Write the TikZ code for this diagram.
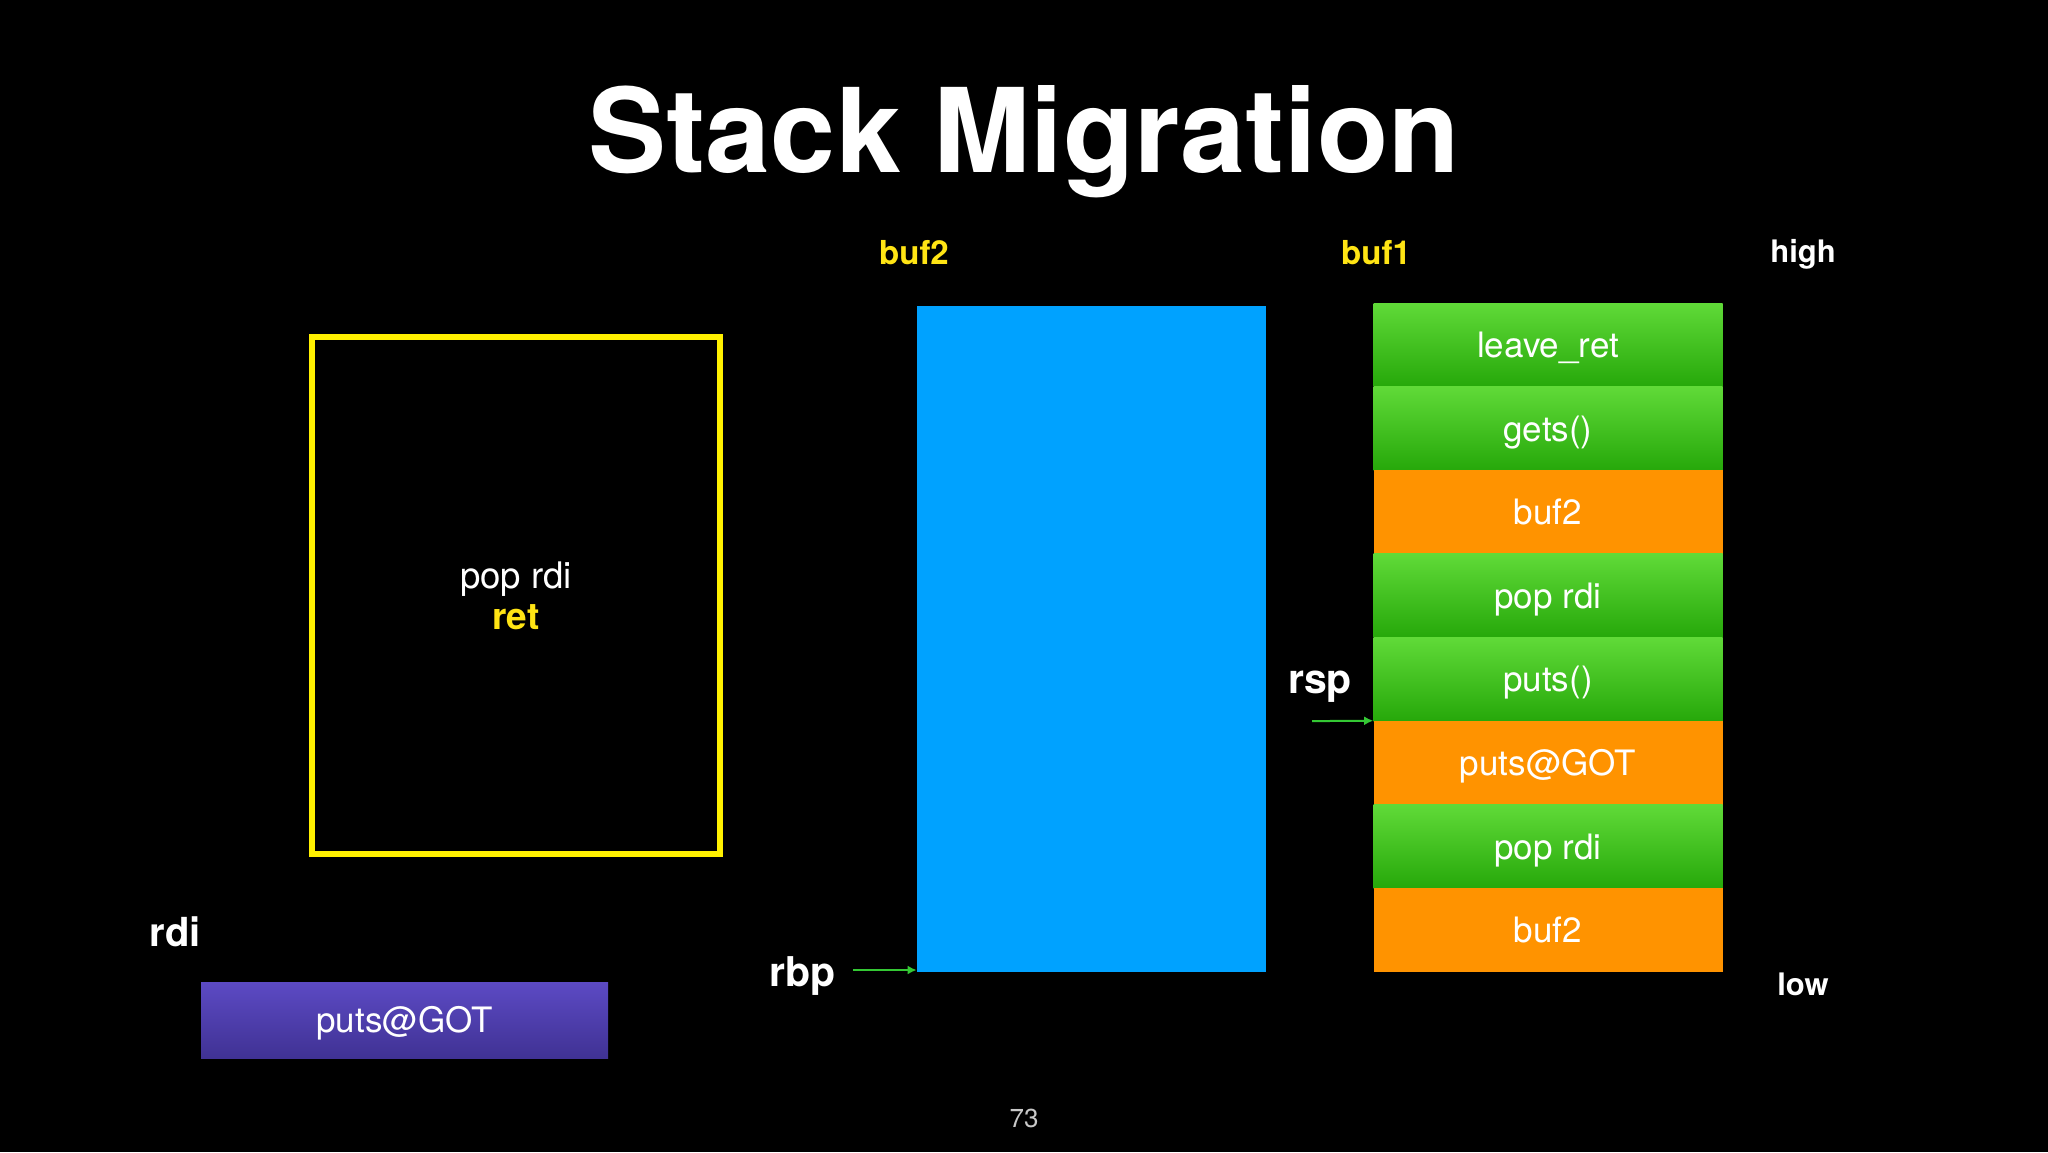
\documentclass[tikz,border=0pt]{standalone}
\usepackage{fontspec}
\setmainfont{TeX Gyre Heros}
\usetikzlibrary{arrows.meta}
\definecolor{grtop}{RGB}{96,218,56}
\definecolor{grbot}{RGB}{38,168,10}
\definecolor{orng}{RGB}{255,147,0}
\definecolor{skyb}{RGB}{0,162,255}
\definecolor{pptop}{RGB}{92,74,196}
\definecolor{ppbot}{RGB}{64,50,148}
\definecolor{ylw}{RGB}{255,240,0}
\definecolor{ylwtxt}{RGB}{255,228,20}
\definecolor{ptrgreen}{RGB}{52,200,52}
\definecolor{pgnum}{RGB}{200,200,200}
\tikzset{
  cell/.style={minimum width=174.5pt, minimum height=41.8pt, inner sep=0pt,
    text height=12.6pt, text depth=0pt, text=white,
    font=\fontsize{17.5}{20}\selectfont},
  greencell/.style={cell, top color=grtop, bottom color=grbot},
  orangecell/.style={cell, fill=orng},
  reglabel/.style={text=white, font=\fontsize{18.3}{22}\selectfont, inner sep=0pt, anchor=base},
  boldlabel/.style={text=white, font=\bfseries\fontsize{20.5}{24}\selectfont, inner sep=0pt, anchor=base},
  buflabel/.style={text=ylwtxt, font=\bfseries\fontsize{16.5}{20}\selectfont, inner sep=0pt, anchor=base},
  endlabel/.style={text=white, font=\bfseries\fontsize{15.5}{18}\selectfont, inner sep=0pt, anchor=base},
  ptr/.style={draw=ptrgreen, line width=1pt, -{Latex[length=4.5pt,width=4.5pt]}}
}
\begin{document}
\begin{tikzpicture}[x=0.5pt,y=-0.5pt]
\fill[black] (0,0) rectangle (2048,1152);
\useasboundingbox (0,0) rectangle (2048,1152);

% title
\node[text=white, font=\bfseries\fontsize{58.4}{66}\selectfont, inner sep=0pt, anchor=base] (title) at (1024,172) {Stack Migration};

% column labels
\node[buflabel] (lbuf2) at (914,264) {buf2};
\node[buflabel] (lbuf1) at (1376,264) {buf1};
\node[endlabel] (lhigh) at (1803,262) {high};
\node[endlabel] (llow) at (1803,995) {low};

% yellow box
\node[draw=ylw, line width=3pt, minimum width=204pt, minimum height=258.5pt, inner sep=0pt, miter limit=10] (gadget) at (516,595.5) {};
\node[reglabel] (gpop) at (516,588) {pop rdi};
\node[text=ylwtxt, font=\bfseries\fontsize{18.5}{22}\selectfont, inner sep=0pt, anchor=base] (gret) at (516,629) {ret};

% blue buf2 region
\node[fill=skyb, minimum width=174.5pt, minimum height=333pt, inner sep=0pt] (blue) at (1091.5,639) {};

% stack cells (buf1)
\node[greencell]  (c1) at (1548,344.8) {leave\_ret};
\node[greencell]  (c2) at (1548,428.4) {gets()};
\node[orangecell] (c3) at (1548,512.0) {buf2};
\node[greencell]  (c4) at (1548,595.7) {pop rdi};
\node[greencell]  (c5) at (1548,679.3) {puts()};
\node[orangecell] (c6) at (1548,762.9) {puts@GOT};
\node[greencell]  (c7) at (1548,846.6) {pop rdi};
\node[orangecell] (c8) at (1548,930.2) {buf2};

% registers
\node[boldlabel] (rsp) at (1320,693) {rsp};
\node[boldlabel] (rbp) at (803,986) {rbp};
\node[text=white, font=\bfseries\fontsize{20}{24}\selectfont, inner sep=0pt, anchor=base] (rdi) at (175,946) {rdi};

% rdi value
\node[cell, top color=pptop, bottom color=ppbot, minimum width=203.5pt, minimum height=38pt] (rdival) at (404.5,1020) {puts@GOT};

% pointers
\coordinate (rspfrom) at (1312,721.1);
\draw[ptr] (rspfrom) -- (c6.north west);
\coordinate (rbpfrom) at (853,970);
\draw[ptr] (rbpfrom) -- (rbpfrom -| blue.west);

% page number
\node[text=pgnum, font=\fontsize{13}{15}\selectfont, inner sep=0pt, anchor=base] (pg) at (1024,1127) {73};
\end{tikzpicture}
\end{document}
